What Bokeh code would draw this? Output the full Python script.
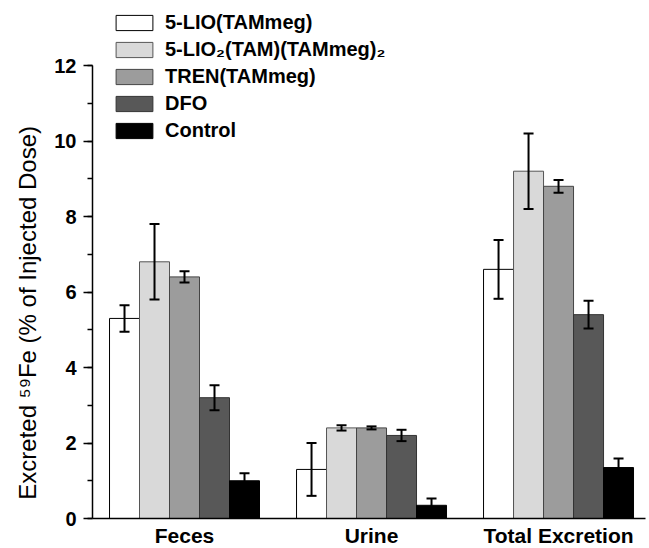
from bokeh.plotting import figure
from bokeh.models import ColumnDataSource, Whisker, TeeHead, Legend, LegendItem, SingleIntervalTicker, FixedTicker, Range1d
from bokeh.embed import file_html
from bokeh.resources import INLINE

categories = ["Feces", "Urine", "Total Excretion"]
series = ["5-LIO(TAMmeg)", "5-LIO\u2082(TAM)(TAMmeg)\u2082", "TREN(TAMmeg)", "DFO", "Control"]

lio_vals = [5.3, 1.3, 6.6]
lio_err = [0.35, 0.7, 0.78]
lio2_vals = [6.8, 2.4, 9.2]
lio2_err = [1.0, 0.07, 1.0]
tren_vals = [6.4, 2.4, 8.8]
tren_err = [0.15, 0.04, 0.17]
dfo_vals = [3.2, 2.2, 5.4]
dfo_err = [0.33, 0.15, 0.37]
ctrl_vals = [1.0, 0.35, 1.35]
ctrl_err = [0.2, 0.18, 0.24]

y_ticks_interval = 2

all_vals = [lio_vals, lio2_vals, tren_vals, dfo_vals, ctrl_vals]
all_errs = [lio_err, lio2_err, tren_err, dfo_err, ctrl_err]
fills = ["#ffffff", "#d9d9d9", "#9c9c9c", "#585858", "#000000"]
outlines = ["#000000", "#555555", "#444444", "#333333", "#000000"]

FONT = "Liberation Sans"
bar_w = 0.1604
frame_h = 518
frame_w = 553
px_per_unit = (frame_h - 65.0) / 12.0
y_top = frame_h / px_per_unit

p = figure(frame_width=frame_w, frame_height=frame_h, output_backend="svg", toolbar_location=None,
           x_range=Range1d(0.508, 3.465), y_range=Range1d(0, y_top),
           min_border_left=92, min_border_right=4, min_border_top=0, min_border_bottom=0)
p.outline_line_color = None
p.xgrid.visible = False
p.ygrid.visible = False
p.background_fill_color = "white"
p.border_fill_color = "white"

items = []
base_x = [i + 1 for i in range(len(categories))]
for k, (name, vals, errs) in enumerate(zip(series, all_vals, all_errs)):
    off = (k - 2) * bar_w
    xs = [b + off for b in base_x]
    src = ColumnDataSource(dict(x=xs, top=vals,
                                upper=[v + e for v, e in zip(vals, errs)],
                                lower=[v - e for v, e in zip(vals, errs)]))
    r = p.vbar(x="x", top="top", bottom=0, width=bar_w, source=src,
               fill_color=fills[k], line_color=outlines[k], line_width=1)
    items.append(LegendItem(label=name, renderers=[r]))
    wk = Whisker(base="x", upper="upper", lower="lower", source=src, dimension="height",
                 line_color="black", line_width=2, level="overlay",
                 upper_head=TeeHead(size=10, line_color="black", line_width=2),
                 lower_head=TeeHead(size=10, line_color="black", line_width=2))
    p.add_layout(wk)

legend_h = 5 * 23 + 4 * 4
legend = Legend(items=items, location=(19, frame_h - 10.5 - legend_h),
                glyph_width=46, glyph_height=19, label_height=19, spacing=4,
                padding=0, margin=0, label_standoff=8,
                border_line_color=None, background_fill_alpha=0,
                label_text_font=FONT, label_text_font_style="bold",
                label_text_font_size="20px", label_text_color="black")
p.add_layout(legend, "center")

# y axis
ya = p.yaxis[0]
ya.ticker = SingleIntervalTicker(interval=y_ticks_interval, num_minor_ticks=2)
ya.bounds = (0, 12)
ya.axis_line_width = 1.5
ya.axis_line_color = "black"
ya.major_tick_out = 9
ya.major_tick_in = 0
ya.minor_tick_out = 5
ya.minor_tick_in = 0
ya.major_tick_line_width = 1.5
ya.minor_tick_line_width = 1.5
ya.major_tick_line_color = "black"
ya.minor_tick_line_color = "black"
ya.major_label_standoff = 7
ya.major_label_text_font = FONT
ya.major_label_text_font_style = "bold"
ya.major_label_text_font_size = "20px"
ya.major_label_text_color = "black"
ya.axis_label = "Excreted \u2075\u2079Fe (% of Injected Dose)" + "\u00a0" * 16
ya.axis_label_text_font = FONT
ya.axis_label_text_font_style = "normal"
ya.axis_label_text_font_size = "24px"
ya.axis_label_text_color = "black"
ya.axis_label_standoff = 10

# x axis
xa = p.xaxis[0]
xa.ticker = FixedTicker(ticks=base_x)
xa.major_label_overrides = {b: c for b, c in zip(base_x, categories)}
xa.major_tick_line_color = None
xa.minor_tick_line_color = None
xa.major_tick_out = 0
xa.major_tick_in = 0
xa.minor_tick_out = 0
xa.minor_tick_in = 0
xa.axis_label_standoff = 0
xa.axis_line_width = 1.5
xa.axis_line_color = "black"
xa.major_label_standoff = 5
xa.major_label_text_font = FONT
xa.major_label_text_font_style = "bold"
xa.major_label_text_font_size = "21px"
xa.major_label_text_color = "black"

open("out.html", "w").write(file_html(p, INLINE))
